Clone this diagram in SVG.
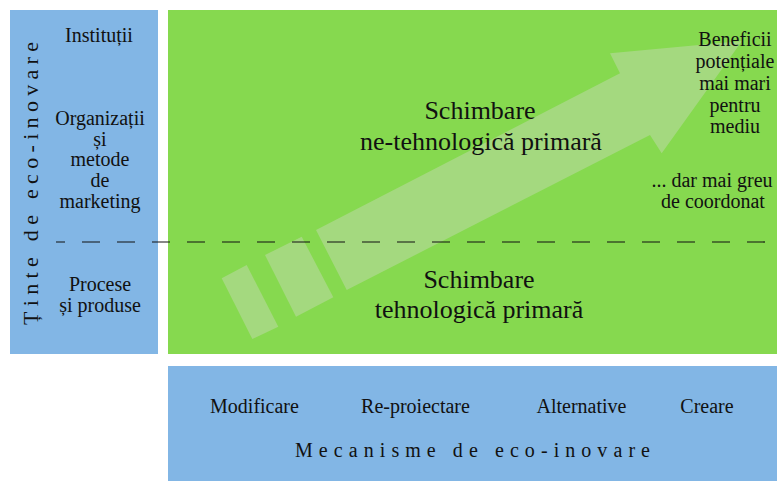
<svg xmlns="http://www.w3.org/2000/svg" width="777" height="481" viewBox="0 0 777 481">
<style>
text{font-family:'Liberation Serif','Tinos','Times New Roman','DejaVu Serif',serif}
.t{fill:#111;text-anchor:middle}
.s20{font-size:20px}
.s26{font-size:26px}
.blue{fill:#82b6e5}
.green{fill:#86d94f}
.arr{fill:#a4d97f}
</style>
<rect width="777" height="481" fill="#ffffff"/>
<g id="targets" font-family="Liberation Serif, DejaVu Serif, serif">
<rect class="blue" x="10" y="10" width="148" height="344"/>
<text class="t" transform="translate(37.5,325) rotate(-90)" x="0" y="0" style="font-size:22px;text-anchor:start" textLength="283" lengthAdjust="spacing">Ținte de eco-inovare</text>
<text class="t s20" x="99" y="42">Instituții</text>
<text class="t s20" x="100" y="125">Organizații</text>
<text class="t s20" x="100" y="146">și</text>
<text class="t s20" x="100" y="166">metode</text>
<text class="t s20" x="100" y="187">de</text>
<text class="t s20" x="100" y="208">marketing</text>
<text class="t s20" x="100" y="291">Procese</text>
<text class="t s20" x="100" y="312">și produse</text>
</g>
<g id="change">
<rect class="green" x="168" y="10" width="609" height="344"/>
<g id="arrow">
<polygon class="arr" points="221.7,278.3 246.7,265 278.3,326.7 252.3,339"/>
<polygon class="arr" points="265,255 301.7,236.7 333.3,297.3 296,316.7"/>
<polygon class="arr" points="316,230 620,73.3 610,53.3 742,41 661.7,153.3 650,135 346.7,290"/>
</g>
<text class="t s26" x="480" y="119">Schimbare</text>
<text class="t s26" x="481" y="150">ne-tehnologică primară</text>
<text class="t s26" x="479" y="288">Schimbare</text>
<text class="t s26" x="479" y="318">tehnologică primară</text>
<text class="t s20" x="735" y="46">Beneficii</text>
<text class="t s20" x="735" y="68">potențiale</text>
<text class="t s20" x="735" y="90">mai mari</text>
<text class="t s20" x="735" y="112">pentru</text>
<text class="t s20" x="735" y="133">mediu</text>
<text class="t s20" x="712" y="187">... dar mai greu</text>
<text class="t s20" x="713" y="208">de coordonat</text>
</g>
<g id="connectors">
<line x1="56" y1="242" x2="766" y2="242" stroke="#111" stroke-width="1.2" stroke-dasharray="18 17" stroke-dashoffset="9"/>
</g>
<g id="mechanisms">
<rect class="blue" x="168" y="366" width="609" height="115"/>
<text class="t s20" x="254.5" y="413">Modificare</text>
<text class="t s20" x="415.5" y="413">Re-proiectare</text>
<text class="t s20" x="581.5" y="413">Alternative</text>
<text class="t s20" x="707" y="413">Creare</text>
<text class="t" x="295" y="457" style="font-size:20px;text-anchor:start" textLength="355" lengthAdjust="spacing">Mecanisme de eco-inovare</text>
</g>
</svg>
